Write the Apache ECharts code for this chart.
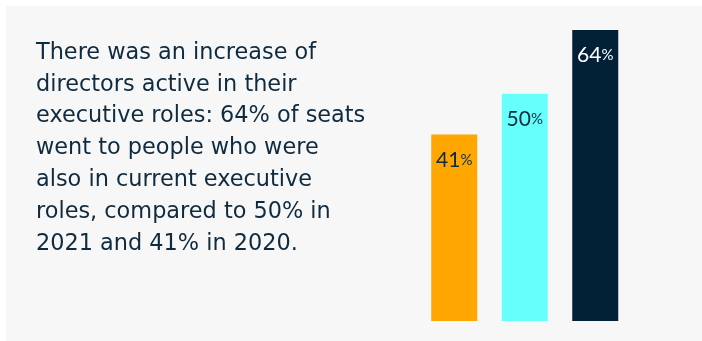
<!DOCTYPE html>
<html>
<head>
<meta charset="utf-8">
<script src="https://cdn.jsdelivr.net/npm/echarts@6/dist/echarts.min.js"></script>
<style>
  html, body { margin: 0; padding: 0; background: #ffffff; }
  #chart { width: 702px; height: 341px; }
</style>
</head>
<body>
<div id="chart"></div>
<script>
// Share of board seats going to directors in current executive roles
const years = ['2020', '2021', '2022'];
const shares = [41, 50, 64];
const barColors = ['#FFA600', '#66FFFC', '#022137'];
const labelColors = ['#0F2B40', '#0F2B40', '#FFFFFF'];

const summaryLines = [
  'There was an increase of',
  'directors active in their',
  'executive roles: 64% of seats',
  'went to people who were',
  'also in current executive',
  'roles, compared to 50% in',
  '2021 and 41% in 2020.'
];

const chart = echarts.init(document.getElementById('chart'), null, { renderer: 'canvas' });

const TEXT_FONT = '"DejaVu Sans", sans-serif';
const LABEL_FONT = 'Lato, "Open Sans", sans-serif';

chart.setOption({
  animation: false,
  backgroundColor: '#ffffff',
  graphic: [
    {
      type: 'rect',
      z: -10,
      shape: { x: 6, y: 6, width: 696, height: 335 },
      style: { fill: '#F7F7F7' },
      silent: true
    },
    {
      type: 'text',
      left: 36,
      top: 37,
      style: {
        text: summaryLines.join('\n'),
        fontFamily: TEXT_FONT,
        fontSize: 22.4,
        lineHeight: 31.8,
        fill: '#0F2B40'
      }
    }
  ],
  grid: { left: 419, top: 30, width: 211.5, height: 291 },
  xAxis: {
    type: 'category',
    data: years,
    show: false
  },
  yAxis: {
    type: 'value',
    min: 0,
    max: 64,
    show: false
  },
  series: [{
    type: 'bar',
    barWidth: 46,
    data: shares.map((v, i) => ({
      value: v,
      itemStyle: { color: barColors[i] },
      label: { color: labelColors[i] }
    })),
    label: {
      show: true,
      position: 'insideTop',
      distance: 15,
      formatter: p => '{n|' + p.value + '}{p|%}',
      rich: {
        n: { fontFamily: LABEL_FONT, fontSize: 21 },
        p: { fontFamily: LABEL_FONT, fontSize: 15 }
      }
    }
  }]
});
</script>
</body>
</html>
